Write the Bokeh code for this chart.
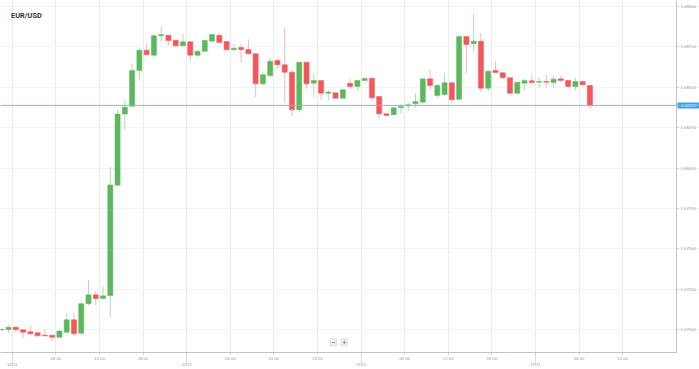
from bokeh.plotting import figure
from bokeh.models import (ColumnDataSource, Range1d, FixedTicker, LinearAxis,
                          NumeralTickFormatter, Span, Label)
from bokeh.core.properties import value
from bokeh.embed import file_html
from bokeh.resources import INLINE

# ---- data: hourly EUR/USD candles, first candle = 13/11 22:00 (hour -2 from 14/11 00:00)
first_hour = -2
opens = [1.06999, 1.07002, 1.07016, 1.07000, 1.06988, 1.06982, 1.06967, 1.06967, 1.06954, 1.06985,
         1.07062, 1.06979, 1.07161, 1.07216, 1.07194, 1.07212, 1.07894, 1.08333, 1.08382, 1.08603,
         1.08728, 1.08697, 1.08817, 1.08821, 1.08790, 1.08755, 1.08780, 1.08697, 1.08722, 1.08784,
         1.08821, 1.08782, 1.08731, 1.08745, 1.08732, 1.08706, 1.08520, 1.08572, 1.08664, 1.08638,
         1.08592, 1.08360, 1.08654, 1.08524, 1.08541, 1.08462, 1.08465, 1.08431, 1.08524, 1.08504,
         1.08541, 1.08555, 1.08442, 1.08335, 1.08329, 1.08372, 1.08384, 1.08397, 1.08407, 1.08551,
         1.08448, 1.08454, 1.08527, 1.08425, 1.08813, 1.08768, 1.08784, 1.08493, 1.08603, 1.08588,
         1.08558, 1.08462, 1.08524, 1.08539, 1.08530, 1.08535, 1.08528, 1.08551, 1.08541, 1.08504,
         1.08535, 1.08510]
highs = [1.07008, 1.07031, 1.07027, 1.07000, 1.07025, 1.06985, 1.07002, 1.06967, 1.07000, 1.07099,
         1.07107, 1.07177, 1.07309, 1.07239, 1.07268, 1.08005, 1.08360, 1.08423, 1.08644, 1.08737,
         1.08768, 1.08829, 1.08875, 1.08821, 1.08790, 1.08829, 1.08780, 1.08722, 1.08794, 1.08829,
         1.08829, 1.08782, 1.08768, 1.08768, 1.08794, 1.08706, 1.08592, 1.08681, 1.08681, 1.08864,
         1.08607, 1.08654, 1.08654, 1.08582, 1.08541, 1.08483, 1.08465, 1.08490, 1.08551, 1.08541,
         1.08561, 1.08555, 1.08442, 1.08339, 1.08372, 1.08397, 1.08407, 1.08462, 1.08551, 1.08607,
         1.08520, 1.08588, 1.08527, 1.08813, 1.08813, 1.08955, 1.08833, 1.08607, 1.08660, 1.08592,
         1.08558, 1.08530, 1.08551, 1.08578, 1.08561, 1.08572, 1.08572, 1.08572, 1.08545, 1.08558,
         1.08541, 1.08510]
lows = [1.06996, 1.06979, 1.06985, 1.06951, 1.06971, 1.06954, 1.06960, 1.06930, 1.06951, 1.06979,
        1.06963, 1.06965, 1.07152, 1.07152, 1.07192, 1.07078, 1.07888, 1.08232, 1.08372, 1.08541,
        1.08700, 1.08685, 1.08782, 1.08757, 1.08747, 1.08755, 1.08660, 1.08685, 1.08720, 1.08784,
        1.08771, 1.08726, 1.08722, 1.08650, 1.08702, 1.08438, 1.08510, 1.08558, 1.08613, 1.08407,
        1.08320, 1.08345, 1.08490, 1.08438, 1.08422, 1.08417, 1.08425, 1.08431, 1.08490, 1.08479,
        1.08536, 1.08417, 1.08304, 1.08320, 1.08329, 1.08335, 1.08351, 1.08376, 1.08397, 1.08483,
        1.08434, 1.08448, 1.08397, 1.08422, 1.08586, 1.08716, 1.08469, 1.08475, 1.08586, 1.08551,
        1.08454, 1.08462, 1.08479, 1.08514, 1.08499, 1.08499, 1.08496, 1.08536, 1.08499, 1.08479,
        1.08510, 1.08366]
closes = [1.07003, 1.07016, 1.07000, 1.06985, 1.06975, 1.06963, 1.06962, 1.06954, 1.06992, 1.07062,
          1.06975, 1.07161, 1.07216, 1.07194, 1.07210, 1.07895, 1.08333, 1.08376, 1.08603, 1.08728,
          1.08700, 1.08817, 1.08825, 1.08788, 1.08755, 1.08780, 1.08697, 1.08722, 1.08788, 1.08825,
          1.08776, 1.08731, 1.08740, 1.08732, 1.08706, 1.08520, 1.08576, 1.08660, 1.08638, 1.08592,
          1.08360, 1.08654, 1.08520, 1.08541, 1.08462, 1.08469, 1.08431, 1.08483, 1.08504, 1.08541,
          1.08553, 1.08434, 1.08335, 1.08325, 1.08372, 1.08380, 1.08391, 1.08411, 1.08551, 1.08510,
          1.08510, 1.08527, 1.08422, 1.08813, 1.08763, 1.08784, 1.08493, 1.08598, 1.08590, 1.08558,
          1.08462, 1.08530, 1.08541, 1.08528, 1.08535, 1.08530, 1.08549, 1.08541, 1.08504, 1.08535,
          1.08514, 1.08386]

current_price = 1.08387
price_ticks = [1.0700, 1.0725, 1.0750, 1.0775, 1.0800, 1.0825, 1.0850, 1.0875, 1.0900]
time_ticks = [6, 12, 18, 30, 36, 42, 54, 60, 66, 78, 84]
time_labels = ["06:00", "12:00", "18:00", "06:00", "12:00", "18:00",
               "06:00", "12:00", "18:00", "06:00", "12:00"]
day_ticks = [0, 24, 48, 72]
day_labels = ["14/11", "15/11", "16/11", "17/11"]
title = "EUR/USD"

GREEN = "#5cb85c"
RED = "#f4565a"
GREEN_W = "#b3dcb3"
RED_W = "#f8b6b7"

n = len(opens)
xs = [first_hour + k + 0.5 for k in range(n)]
up = [c >= o for o, c in zip(opens, closes)]
src = ColumnDataSource(dict(
    x=xs, o=opens, h=highs, l=lows, c=closes,
    top=[max(o, c) for o, c in zip(opens, closes)],
    bot=[min(o, c) for o, c in zip(opens, closes)],
    col=[GREEN if u else RED for u in up],
    wcol=[GREEN_W if u else RED_W for u in up],
))

# scale: 7.267 px per hour (14/11 00:00 at x=11.7), 0.0000618 price per px
PXH = 7.267
px = 0.0000618
W, H = 699, 369
AXIS_X = 676          # pixel column of the price axis
FH = 352
x0 = -11.7 / PXH
x1 = x0 + W / PXH
x_axis_loc = x0 + AXIS_X / PXH
y1 = 1.090352
y0 = y1 - FH * px

p = figure(width=W, height=H, output_backend="svg", toolbar_location=None,
           x_range=Range1d(x0, x1), y_range=Range1d(y0, y1),
           x_axis_location="below", y_axis_location=None,
           min_border_left=0, min_border_top=0, min_border_right=0,
           min_border_bottom=H - FH)
p.outline_line_color = None
p.background_fill_color = "white"
p.border_fill_color = "white"

LABEL_FONT = "Liberation Sans"
AX = "#c4c4c4"
TXT = "#9a9a9a"

# y axis (right side, pinned at the pixel column AXIS_X)
ya = LinearAxis(ticker=FixedTicker(ticks=price_ticks),
                formatter=NumeralTickFormatter(format="0.00000"),
                fixed_location=x_axis_loc,
                major_label_text_font=LABEL_FONT, major_label_text_font_size="4.3px",
                major_label_text_color=TXT, axis_line_color=AX,
                major_tick_line_color=AX, major_tick_out=2, major_tick_in=0,
                minor_tick_line_color=None, major_label_standoff=2)
p.add_layout(ya, "right")

# x axis (below): hours
xa = p.xaxis[0]
xa.ticker = FixedTicker(ticks=time_ticks + day_ticks)
overrides = {t: lab for t, lab in zip(time_ticks, time_labels)}
overrides.update({t: "" for t in day_ticks})
xa.major_label_overrides = overrides
xa.major_label_text_font = LABEL_FONT
xa.major_label_text_font_size = "4.3px"
xa.major_label_text_color = TXT
xa.axis_line_color = AX
xa.major_tick_line_color = AX
xa.major_tick_out = 2
xa.major_tick_in = 0
xa.minor_tick_line_color = None
xa.major_label_standoff = 1
xa.bounds = (x0, x_axis_loc)

# second x axis (below): days, with dotted ticks reaching up to the first axis
xa2 = LinearAxis(ticker=FixedTicker(ticks=day_ticks),
                 major_label_overrides={t: lab for t, lab in zip(day_ticks, day_labels)},
                 axis_line_color=None, major_tick_out=0, major_tick_in=9,
                 major_tick_line_color="#b8b8b8", major_tick_line_dash="1 1",
                 minor_tick_line_color=None, major_label_standoff=-2,
                 major_label_text_font=LABEL_FONT, major_label_text_font_size="4.3px",
                 major_label_text_color=TXT)
p.add_layout(xa2, "below")

p.xgrid.ticker = FixedTicker(ticks=time_ticks + day_ticks)
p.xgrid.grid_line_color = "#ebebeb"
p.ygrid.ticker = FixedTicker(ticks=price_ticks)
p.ygrid.grid_line_color = "#f3f3f3"

# current price line
p.add_layout(Span(location=current_price, dimension="width",
                  line_color="#6fbff0", line_width=1))

# candles
p.segment(x0="x", y0="h", x1="x", y1="l", source=src, line_color="wcol", line_width=1)
p.vbar(x="x", width=0.7, top="top", bottom="bot", source=src,
       fill_color="col", line_color="col", line_width=0.5)

# price tag on the price axis
tag_l = x0 + 677 / PXH
tag_r = x0 + 699 / PXH
p.quad(left=[tag_l], right=[tag_r], top=[current_price + 3 * px],
       bottom=[current_price - 3 * px], fill_color="#3aa3e3", line_color=None)
p.text(x=[(tag_l + tag_r) / 2], y=[current_price], text=[f"{current_price:.5f}"],
       text_align="center", text_baseline="middle", text_font=value(LABEL_FONT),
       text_font_size="4.3px", text_color="white")

# title
p.add_layout(Label(x=x0 + 10.5 / PXH, y=y1 - 10 * px, text=title, text_baseline="top",
                   text_font="Roboto", text_font_style="bold", text_font_size="7.4px",
                   text_color="#333333"))

# zoom buttons
for sym, xc in (("\u2212", 44.2), ("+", 45.7)):
    p.add_layout(Label(x=xc, y=y0 + 10.2 * px, text=sym, text_align="center",
                       text_baseline="middle", text_font=LABEL_FONT, text_font_size="7px",
                       text_color="#555555", background_fill_color="#f3f3f3",
                       border_line_color="#dddddd", padding=1))

open("out.html", "w").write(file_html(p, INLINE))
